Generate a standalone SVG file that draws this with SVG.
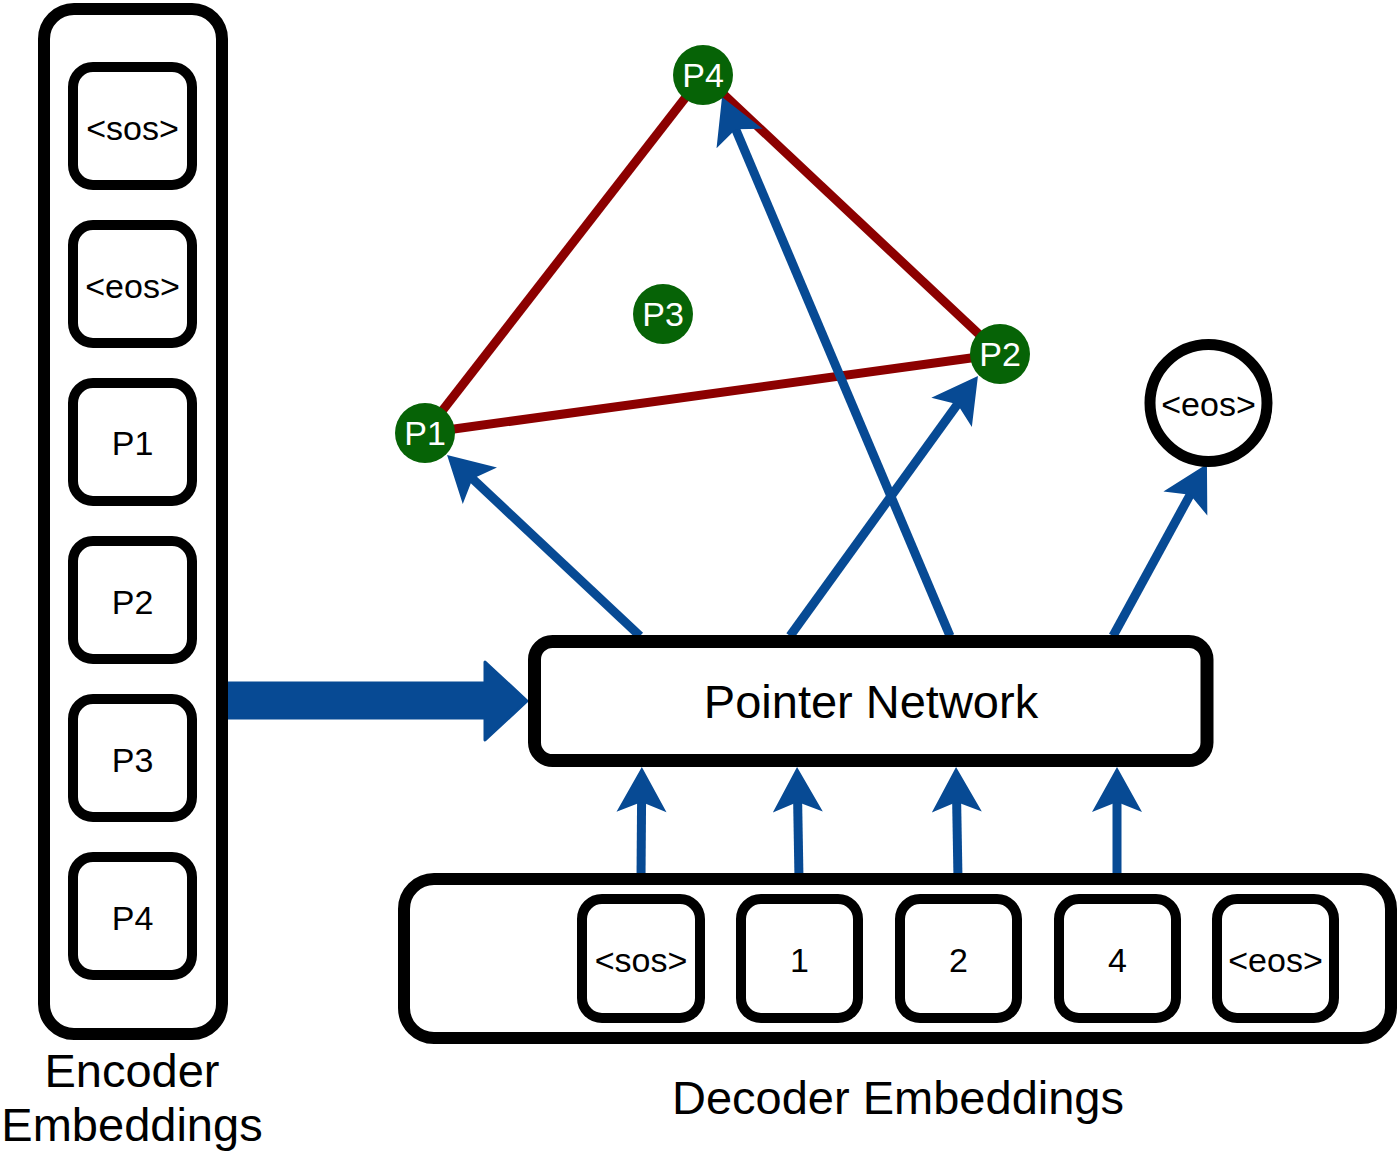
<svg xmlns="http://www.w3.org/2000/svg" width="1400" height="1152" viewBox="0 0 1400 1152">
<style>
.box{fill:#fff;stroke:#000;stroke-width:10}
.outer{fill:#fff;stroke:#000;stroke-width:12}
.t{font-family:"Liberation Sans",Arial,sans-serif;font-size:34px;fill:#000;text-anchor:middle}
.lbl{font-family:"Liberation Sans",Arial,sans-serif;font-size:47px;fill:#000;text-anchor:middle}
.pt{fill:#066306}
.pl{font-family:"Liberation Sans",Arial,sans-serif;font-size:34px;fill:#fff;text-anchor:middle}
.red{stroke:#8c0000;stroke-width:9;fill:none}
.blue{stroke:#074a94;stroke-width:9;fill:none;marker-end:url(#ah)}
</style>
<defs>
<marker id="ah" markerUnits="userSpaceOnUse" markerWidth="60" markerHeight="60" viewBox="-50 -30 60 60" refX="-32" refY="0" orient="auto">
<path d="M0,0 L-45,-25 L-35,0 L-45,25 Z" fill="#074a94"/>
</marker>
</defs>
<rect width="1400" height="1152" fill="#fff"/>
<g id="connectors">
<line class="red" x1="425" y1="433" x2="703" y2="75"/>
<line class="red" x1="703" y1="75" x2="1000" y2="354"/>
<line class="red" x1="425" y1="433" x2="1000" y2="354"/>
<line class="blue" x1="640" y1="636" x2="470.4" y2="476.8"/>
<line class="blue" x1="790" y1="636" x2="959.2" y2="401.9"/>
<line class="blue" x1="950" y1="636" x2="734.5" y2="126.5"/>
<line class="blue" x1="1113" y1="636" x2="1191.6" y2="492.1"/>
<line class="blue" x1="641" y1="879" x2="641.6" y2="799"/>
<line class="blue" x1="799" y1="879" x2="797.6" y2="799"/>
<line class="blue" x1="958" y1="879" x2="956.6" y2="799"/>
<line class="blue" x1="1117" y1="879" x2="1117" y2="799"/>
<path d="M228,683 L485,683 L485,662 L527,701 L485,740 L485,718 L228,718 Z" fill="#074a94" stroke="#074a94" stroke-width="3" stroke-linejoin="round"/>
</g>
<g id="encoder">
<rect class="outer" x="44" y="9" width="178" height="1025" rx="30"/>
</g>
<g id="enc-sos"><rect class="box" x="73" y="67" width="119" height="118" rx="20"/><text class="t" x="132.5" y="140">&lt;sos&gt;</text></g>
<g id="enc-eos"><rect class="box" x="73" y="225" width="119" height="118" rx="20"/><text class="t" x="132.5" y="298">&lt;eos&gt;</text></g>
<g id="enc-p1"><rect class="box" x="73" y="383" width="119" height="118" rx="20"/><text class="t" x="132.5" y="455">P1</text></g>
<g id="enc-p2"><rect class="box" x="73" y="541" width="119" height="118" rx="20"/><text class="t" x="132.5" y="614">P2</text></g>
<g id="enc-p3"><rect class="box" x="73" y="699" width="119" height="118" rx="20"/><text class="t" x="132.5" y="772">P3</text></g>
<g id="enc-p4"><rect class="box" x="73" y="857" width="119" height="118" rx="20"/><text class="t" x="132.5" y="930">P4</text></g>
<g id="encoder-label"><text class="lbl" x="132" y="1087">Encoder</text><text class="lbl" x="132" y="1141">Embeddings</text></g>
<g id="pointer-network"><rect class="outer" x="534.5" y="641.5" width="672.5" height="119" rx="18" style="stroke-width:13"/><text class="lbl" x="871" y="718">Pointer Network</text></g>
<g id="decoder"><rect class="outer" x="404" y="879" width="987" height="159" rx="30"/></g>
<g id="dec-sos"><rect class="box" x="582" y="899" width="118" height="119" rx="20"/><text class="t" x="641" y="972">&lt;sos&gt;</text></g>
<g id="dec-1"><rect class="box" x="741" y="899" width="117" height="119" rx="20"/><text class="t" x="799.5" y="972">1</text></g>
<g id="dec-2"><rect class="box" x="900" y="899" width="117" height="119" rx="20"/><text class="t" x="958.5" y="972">2</text></g>
<g id="dec-4"><rect class="box" x="1059" y="899" width="117" height="119" rx="20"/><text class="t" x="1117.5" y="972">4</text></g>
<g id="dec-eos"><rect class="box" x="1217" y="899" width="117" height="119" rx="20"/><text class="t" x="1275.5" y="972">&lt;eos&gt;</text></g>
<g id="decoder-label"><text class="lbl" x="898" y="1114">Decoder Embeddings</text></g>
<g id="pt-p4"><circle class="pt" cx="703" cy="75" r="30"/><text class="pl" x="703" y="87">P4</text></g>
<g id="pt-p3"><circle class="pt" cx="663" cy="314" r="30"/><text class="pl" x="663" y="326">P3</text></g>
<g id="pt-p2"><circle class="pt" cx="1000" cy="354" r="30"/><text class="pl" x="1000" y="366">P2</text></g>
<g id="pt-p1"><circle class="pt" cx="425" cy="433" r="30"/><text class="pl" x="425" y="445">P1</text></g>
<g id="out-eos"><circle cx="1208.5" cy="403" r="58.5" fill="#fff" stroke="#000" stroke-width="11"/><text class="t" x="1208.5" y="416">&lt;eos&gt;</text></g>
</svg>
